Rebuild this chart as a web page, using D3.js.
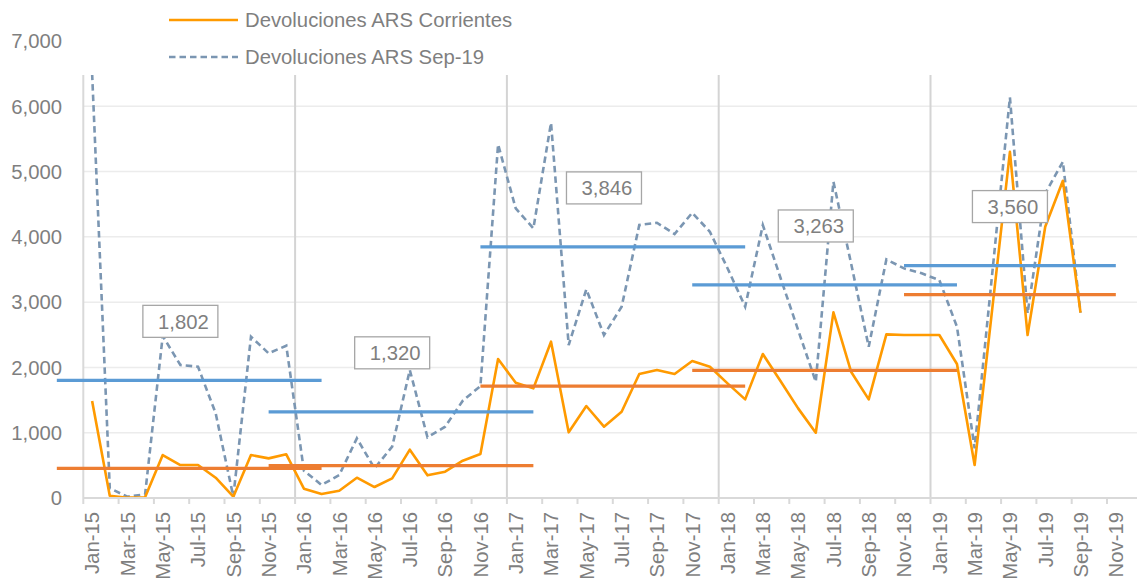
<!DOCTYPE html>
<html>
<head>
<meta charset="utf-8">
<script src="https://cdn.jsdelivr.net/npm/d3@7"></script>
<style>
  body { margin: 0; background: #fff; }
  svg { display: block; font-family: "Liberation Sans", Arial, sans-serif; }
</style>
</head>
<body>
<script>
// meses Jan-15 .. Dec-19 (Dec-19 sin dato)
var meses = ["Jan-15","Feb-15","Mar-15","Apr-15","May-15","Jun-15","Jul-15","Aug-15","Sep-15","Oct-15","Nov-15","Dec-15",
  "Jan-16","Feb-16","Mar-16","Apr-16","May-16","Jun-16","Jul-16","Aug-16","Sep-16","Oct-16","Nov-16","Dec-16",
  "Jan-17","Feb-17","Mar-17","Apr-17","May-17","Jun-17","Jul-17","Aug-17","Sep-17","Oct-17","Nov-17","Dec-17",
  "Jan-18","Feb-18","Mar-18","Apr-18","May-18","Jun-18","Jul-18","Aug-18","Sep-18","Oct-18","Nov-18","Dec-18",
  "Jan-19","Feb-19","Mar-19","Apr-19","May-19","Jun-19","Jul-19","Aug-19","Sep-19","Oct-19","Nov-19","Dec-19"];

var corrientes = [1485, 35, 5, 10, 658, 505, 505, 311, 20, 658, 607, 669,
  143, 61, 112, 311, 168, 301, 740, 347, 403, 571, 674, 2128,
  1766, 1679, 2394, 1006, 1409, 1092, 1322, 1899, 1960, 1899, 2098, 2011,
  1756, 1511, 2205, 1792, 1373, 1000, 2843, 1934, 1511, 2507, 2496, 2496,
  2496, 2052, 505, 2900, 5303, 2496, 4155, 4859, 2840];

var sep19 = [6500, 148, 20, 56, 2481, 2037, 2011, 1297, 20, 2471, 2216, 2333,
  418, 199, 352, 914, 454, 786, 1960, 929, 1092, 1490, 1715, 5416,
  4436, 4130, 5747, 2343, 3196, 2496, 2930, 4181, 4216, 4043, 4369, 4078,
  3520, 2930, 4181, 3374, 2573, 1781, 4844, 3594, 2317, 3655, 3517, 3441,
  3338, 2623, 761, 3445, 6136, 2828, 4666, 5150, 2840];

// promedios anuales
var anios = ["2015", "2016", "2017", "2018", "2019"];
var inicioAnio = ["Jan-15", "Jan-16", "Jan-17", "Jan-18", "Jan-19"];
var etiquetaEn = ["Jun-15", "Jun-16", "Jun-17", "Jun-18", "May-19"];
var promSep19 = [1802, 1320, 3846, 3263, 3560];
var promCorr = [455, 495, 1715, 1955, 3115];

var yTicks = [0, 1000, 2000, 3000, 4000, 5000, 6000, 7000];

var width = 1137, height = 582;
var left = 83.3, bottom = 498, topV = 41, plotTop = 75;
var gris = "#7f7f7f";

var svg = d3.select("body").append("svg")
    .attr("width", width)
    .attr("height", height);

var x = d3.scaleBand()
    .domain(meses)
    .range([left, left + meses.length * 17.65]);

var y = d3.scaleLinear()
    .domain([0, 7000])
    .range([bottom, topV]);

function cx(m) { return x(m) + x.bandwidth() / 2; }
function cxIdx(i) { return x(meses[0]) + (i + 0.5) * x.bandwidth(); }

svg.append("clipPath").attr("id", "plot")
  .append("rect")
    .attr("x", 0).attr("y", plotTop)
    .attr("width", width).attr("height", bottom - plotTop + 2);

var plot = svg.append("g").attr("clip-path", "url(#plot)");

// grilla horizontal
plot.append("g")
  .selectAll("line")
  .data(yTicks.filter(d => d > 0))
  .enter().append("line")
    .attr("x1", left).attr("x2", width)
    .attr("y1", d => y(d)).attr("y2", d => y(d))
    .style("stroke", "#ececec")
    .style("stroke-width", 1.5);

// separadores de año
plot.append("g")
  .selectAll("line")
  .data(inicioAnio.slice(1))
  .enter().append("line")
    .attr("x1", d => x(d)).attr("x2", d => x(d))
    .attr("y1", plotTop).attr("y2", bottom)
    .style("stroke", "#d4d4d4")
    .style("stroke-width", 2);

// eje y (linea)
plot.append("line")
    .attr("x1", left).attr("x2", left)
    .attr("y1", plotTop).attr("y2", bottom)
    .style("stroke", "#d9d9d9")
    .style("stroke-width", 2);

// eje x
var xAxis = d3.axisBottom(x)
    .tickValues(meses.filter((d, i) => i % 2 == 0))
    .tickSize(0)
    .tickFormat(d => d);

var gx = svg.append("g")
    .attr("transform", "translate(0," + bottom + ")");
gx.append("line")
    .attr("x1", left).attr("x2", width)
    .style("stroke", "#d9d9d9")
    .style("stroke-width", 2);
gx.append("g")
  .selectAll("line")
  .data(meses.filter((d, i) => i % 2 == 0))
  .enter().append("line")
    .attr("x1", d => x(d)).attr("x2", d => x(d))
    .attr("y1", 0).attr("y2", 6)
    .style("stroke", "#d9d9d9")
    .style("stroke-width", 2);
var ax = gx.append("g").call(xAxis);
ax.select(".domain").remove();
ax.selectAll("text")
    .attr("transform", "rotate(-90)")
    .attr("x", -14)
    .attr("y", 0)
    .attr("dy", "0.36em")
    .attr("dx", 0)
    .style("text-anchor", "end")
    .style("font-size", "20.3px")
    .style("font-family", "Liberation Sans, Arial, sans-serif")
    .style("fill", gris);

// eje y etiquetas
svg.append("g")
  .selectAll("text")
  .data(yTicks)
  .enter().append("text")
    .attr("x", 62)
    .attr("y", d => y(d))
    .attr("dy", "0.36em")
    .style("text-anchor", "end")
    .style("font-size", "20.3px")
    .style("fill", gris)
    .text(d => d3.format(",")(d));

var linea = d3.line()
    .x((d, i) => cxIdx(i))
    .y(d => y(d));

plot.append("path")
    .datum(sep19)
    .attr("d", linea)
    .style("fill", "none")
    .style("stroke", "#7b96b2")
    .style("stroke-width", 2.6)
    .style("stroke-dasharray", "6.5,4");

plot.append("path")
    .datum(corrientes)
    .attr("d", linea)
    .style("fill", "none")
    .style("stroke", "#ff9a00")
    .style("stroke-width", 2.6)
    .style("stroke-linejoin", "round");

// promedios
function tramo(i) {
  var k = meses.indexOf(inicioAnio[i]);
  return [cxIdx(k - 2), cxIdx(Math.min(k + 13, meses.length - 2))];
}

var prom = svg.append("g");
anios.forEach(function(a, i) {
  var t = tramo(i);
  prom.append("line")
      .attr("x1", t[0]).attr("x2", t[1])
      .attr("y1", y(promSep19[i])).attr("y2", y(promSep19[i]))
      .style("stroke", "#5b9bd5")
      .style("stroke-width", 3.2);
  prom.append("line")
      .attr("x1", t[0]).attr("x2", t[1])
      .attr("y1", y(promCorr[i])).attr("y2", y(promCorr[i]))
      .style("stroke", "#ed7d31")
      .style("stroke-width", 3.2);
});

// etiquetas de promedio
var et = svg.append("g");
anios.forEach(function(a, i) {
  var ex = cx(etiquetaEn[i]);
  var ey = y(promSep19[i]) - 59;
  et.append("rect")
      .attr("x", ex - 37.5).attr("y", ey - 16)
      .attr("width", 75).attr("height", 32)
      .style("fill", "#fff")
      .style("stroke", "#a6a6a6")
      .style("stroke-width", 1.3);
  et.append("text")
      .attr("x", ex + 3).attr("y", ey)
      .attr("dy", "0.36em")
      .style("text-anchor", "middle")
      .style("font-size", "20.3px")
      .style("fill", gris)
      .text(d3.format(",")(promSep19[i]));
});

// leyenda
var ley = svg.append("g");
ley.append("line")
    .attr("x1", 169).attr("x2", 238).attr("y1", 20).attr("y2", 20)
    .style("stroke", "#ff9a00").style("stroke-width", 2.6);
ley.append("text")
    .attr("x", 245).attr("y", 20).attr("dy", "0.36em")
    .style("font-size", "20.3px").style("fill", gris)
    .text("Devoluciones ARS Corrientes");
ley.append("line")
    .attr("x1", 169).attr("x2", 238).attr("y1", 57).attr("y2", 57)
    .style("stroke", "#7b96b2").style("stroke-width", 2.6)
    .style("stroke-dasharray", "6.5,4");
ley.append("text")
    .attr("x", 245).attr("y", 57).attr("dy", "0.36em")
    .style("font-size", "20.3px").style("fill", gris)
    .text("Devoluciones ARS Sep-19");
</script>
</body>
</html>
